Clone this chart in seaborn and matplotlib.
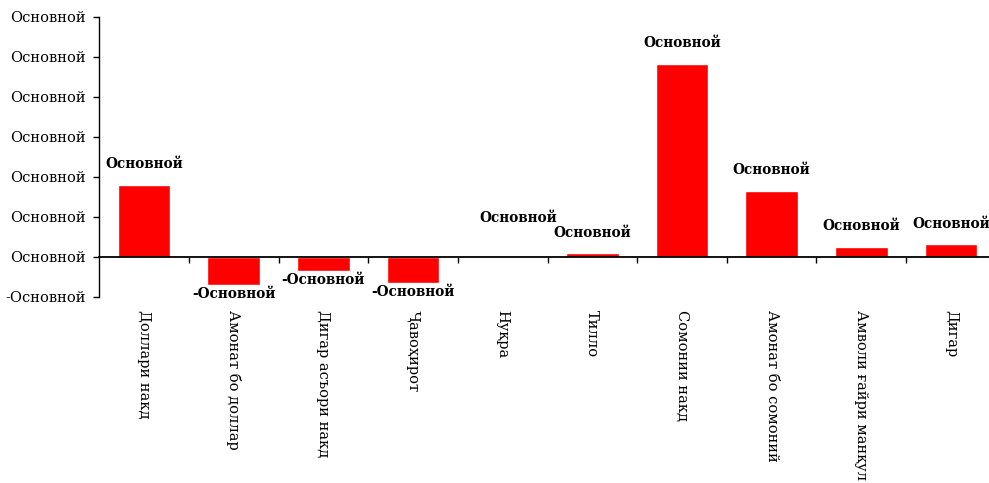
import matplotlib
matplotlib.use('Agg')
import matplotlib.pyplot as plt
import matplotlib.ticker as mticker
import seaborn as sns
import pandas as pd

# categories and values
categories = ['Доллари накд', 'Амонат бо доллар', 'Дигар асъори накд', 'Ҷавоҳирот',
              'Нуқра', 'Тилло', 'Сомонии накд', 'Амонат бо сомоний',
              'Амволи ғайри манқул', 'Дигар']
values = [9.05, -3.55, -1.8, -3.25, 0.0, 0.45, 24.15, 8.25, 1.25, 1.58]
y_ticks = [-5, 0, 5, 10, 15, 20, 25, 30]
label_text = 'Основной'

sns.set_style('white')
plt.rcParams['font.family'] = ['DejaVu Serif']
plt.rcParams['text.color'] = 'black'
plt.rcParams['xtick.color'] = 'black'
plt.rcParams['ytick.color'] = 'black'

df = pd.DataFrame({'cat': categories, 'val': values})

fig = plt.figure(figsize=(9.89, 4.83), dpi=100)
ax = fig.add_axes([99.3 / 989, 186 / 483, 896.5 / 989, 280 / 483])

sns.barplot(data=df, x='cat', y='val', color='#ff0000', saturation=1,
            width=0.587, ax=ax)

ax.set_xlim(-0.5, len(categories) - 0.5)
ax.set_ylim(y_ticks[0], y_ticks[-1])
ax.set_yticks(y_ticks)
ax.yaxis.set_major_formatter(mticker.FuncFormatter(
    lambda v, p: ('-' if v < 0 else '') + label_text))
ax.tick_params(axis='y', length=4, width=1, direction='out', pad=6,
               labelsize=10.5, labelcolor='black', color='black', left=True)

# x axis sits on zero, ticks between categories
ax.spines['bottom'].set_position(('data', 0))
for s in ['top', 'right']:
    ax.spines[s].set_visible(False)
ax.spines['left'].set_color('black')
ax.spines['bottom'].set_color('black')
ax.spines['left'].set_linewidth(1)
ax.spines['bottom'].set_linewidth(1.3)
ax.set_xticks([i + 0.5 for i in range(len(categories))])
ax.set_xticklabels([])
ax.tick_params(axis='x', length=4.5, width=1, direction='out', bottom=True,
               color='black')
ax.set_xlabel('')
ax.set_ylabel('')

# category names below the plot area
for i, c in enumerate(categories):
    ax.annotate(c, xy=(i, 0), xycoords=('data', 'axes fraction'),
                xytext=(0, -9.5), textcoords='offset points',
                rotation=-90, ha='center', va='top', fontsize=10.5,
                color='black')

# value labels
for i, v in enumerate(values):
    txt = ('-' if v < 0 else '') + label_text
    if v > 0:
        off = (0, 15)
    elif v < 0:
        off = (0, -6.5)
    else:
        off = (11, 28)
    ax.annotate(txt, xy=(i, v), xytext=off, textcoords='offset points',
                ha='center', va='center', fontsize=9.8, fontweight='bold',
                color='black')

fig.savefig('out.png', dpi=100)
